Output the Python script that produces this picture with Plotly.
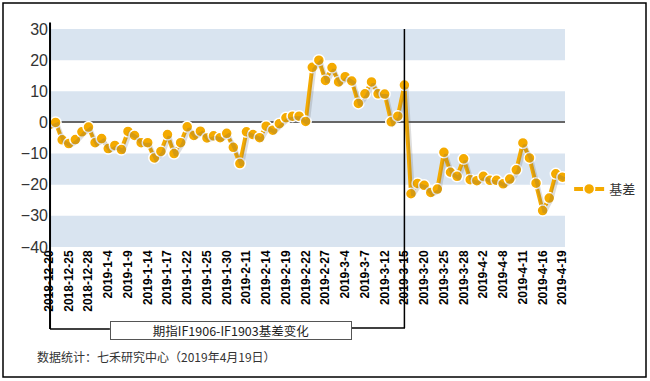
import plotly.graph_objects as go

dates = [
    "2018-12-20", "2018-12-21", "2018-12-24", "2018-12-25", "2018-12-26", "2018-12-27", "2018-12-28",
    "2019-1-2", "2019-1-3", "2019-1-4", "2019-1-7", "2019-1-8", "2019-1-9", "2019-1-10", "2019-1-11",
    "2019-1-14", "2019-1-15", "2019-1-16", "2019-1-17", "2019-1-18", "2019-1-21", "2019-1-22",
    "2019-1-23", "2019-1-24", "2019-1-25", "2019-1-28", "2019-1-29", "2019-1-30", "2019-1-31",
    "2019-2-1", "2019-2-11", "2019-2-12", "2019-2-13", "2019-2-14", "2019-2-15", "2019-2-18",
    "2019-2-19", "2019-2-20", "2019-2-21", "2019-2-22", "2019-2-25", "2019-2-26", "2019-2-27",
    "2019-2-28", "2019-3-1", "2019-3-4", "2019-3-5", "2019-3-6", "2019-3-7", "2019-3-8",
    "2019-3-11", "2019-3-12", "2019-3-13", "2019-3-14", "2019-3-15", "2019-3-18", "2019-3-19",
    "2019-3-20", "2019-3-21", "2019-3-22", "2019-3-25", "2019-3-26", "2019-3-27", "2019-3-28",
    "2019-3-29", "2019-4-1", "2019-4-2", "2019-4-3", "2019-4-4", "2019-4-8", "2019-4-9",
    "2019-4-10", "2019-4-11", "2019-4-12", "2019-4-15", "2019-4-16", "2019-4-17", "2019-4-18",
    "2019-4-19",
]

basis = [
    -0.8, 0.0, -5.6, -6.8, -5.5, -3.0, -1.5,
    -6.5, -5.2, -8.4, -7.4, -8.7, -2.9, -4.2, -6.5,
    -6.5, -11.4, -9.3, -3.9, -10.0, -6.5, -1.4,
    -4.2, -2.8, -5.0, -4.3, -4.9, -3.5, -8.0,
    -13.2, -3.0, -3.9, -4.9, -1.2, -2.5, -0.4,
    1.5, 2.0, 2.0, 0.3, 17.7, 20.0, 13.5,
    17.6, 13.0, 14.7, 13.3, 6.1, 9.2, 13.0,
    9.2, 9.1, 0.2, 2.0, 12.0, -22.9, -19.6,
    -20.2, -22.5, -21.4, -9.6, -16.0, -17.3, -11.7,
    -18.4, -18.7, -17.3, -18.6, -18.6, -19.7, -18.2,
    -15.2, -6.6, -11.4, -19.5, -28.3, -24.3, -16.5,
    -17.6,
]

tick_labels = dates[::3]
y_ticks = [30, 20, 10, 0, -10, -20, -30, -40]
band_edges = [(20, 30), (0, 10), (-20, -10), (-40, -30)]

series_name = "基差"
box_title = "期指IF1906-IF1903基差变化"
footer = "数据统计：七禾研究中心（2019年4月19日）"
split_date = "2019-3-15"

ORANGE = "#F4AA00"
BAND = "#D9E4F0"

x_range = [0, 78.4]
y_range = [-40, 30]
px_x = 516 / (x_range[1] - x_range[0])
px_y = 218 / (y_range[1] - y_range[0])
shift = 2.0

fig = go.Figure()

# shadow line (offset overlay axes)
fig.add_trace(go.Scatter(
    x=dates, y=basis, mode="lines",
    line=dict(color="rgba(90,90,90,0.2)", width=4),
    hoverinfo="skip", showlegend=False,
    xaxis="x3", yaxis="y3",
))

# main series
fig.add_trace(go.Scatter(
    x=dates, y=basis, mode="lines+markers", name=series_name,
    line=dict(color=ORANGE, width=4),
    marker=dict(color=ORANGE, size=11, line=dict(color="white", width=1.5)),
    xaxis="x2", yaxis="y2",
))

shapes = []
for lo, hi in band_edges:
    shapes.append(dict(type="rect", xref="paper", yref="y", x0=0, x1=1, y0=lo, y1=hi,
                       fillcolor=BAND, line=dict(width=0), layer="below"))

split_idx = dates.index(split_date)
box_right = 0.587
line_y = -0.372
shapes.append(dict(type="line", xref="x", yref="paper", x0=split_idx, x1=split_idx,
                   y0=1, y1=line_y, line=dict(color="black", width=1.5), layer="above"))
shapes.append(dict(type="line", xref="paper", yref="paper", x0=box_right, x1=(405 - 49) / 516,
                   y0=line_y, y1=line_y, line=dict(color="black", width=1.5), layer="above"))
shapes.append(dict(type="line", xref="paper", yref="paper", x0=0.002, x1=0.002,
                   y0=1.03, y1=-0.376, line=dict(color="black", width=2), layer="above"))
shapes.append(dict(type="line", xref="paper", yref="paper", x0=0.002, x1=0.118,
                   y0=-0.376, y1=-0.376, line=dict(color="black", width=1.5), layer="above"))
shapes.append(dict(type="rect", xref="paper", yref="paper",
                   x0=(3 - 49) / 516, x1=(646 - 49) / 516,
                   y0=(247 - 377) / 218, y1=(247 - 3) / 218,
                   line=dict(color="black", width=1.5), fillcolor="rgba(0,0,0,0)", layer="above"))

annotations = [
    dict(xref="paper", yref="paper", x=(231 - 49) / 516, y=(247 - 330) / 218,
         text=box_title, showarrow=False, xanchor="center", yanchor="middle",
         width=238, height=15, bordercolor="#555", borderwidth=1, borderpad=1,
         bgcolor="white", font=dict(family="Noto Sans CJK SC, Liberation Sans", size=12.5, color="#222")),
    dict(xref="paper", yref="paper", x=(35 - 49) / 516, y=(247 - 357) / 218,
         text=footer, showarrow=False, xanchor="left", yanchor="middle",
         font=dict(family="Noto Sans CJK SC, Liberation Sans", size=12, color="#333")),
]

fig.update_layout(
    width=650, height=381,
    margin=dict(l=49, r=85, t=29, b=134, autoexpand=False),
    paper_bgcolor="white", plot_bgcolor="white",
    showlegend=True,
    legend=dict(x=1.008, y=(247 - 189) / 218, xanchor="left", yanchor="middle",
                bgcolor="rgba(0,0,0,0)", font=dict(family="Noto Sans CJK SC, Liberation Sans", size=13, color="#333")),
    xaxis=dict(type="category", categoryorder="array", categoryarray=dates,
               range=x_range, tickmode="array", tickvals=tick_labels, ticktext=tick_labels,
               tickangle=-90, tickfont=dict(family="Liberation Sans, Arial", size=12, color="black", weight="bold"),
               showgrid=False, zeroline=False, showline=False, ticks=""),
    yaxis=dict(range=y_range, tickmode="array", tickvals=y_ticks,
               tickfont=dict(family="Liberation Sans, Arial", size=16, color="#333"),
               showgrid=False, zeroline=True, zerolinecolor="#666", zerolinewidth=2,
               showline=False, ticks="", ticklen=0),
    xaxis2=dict(type="category", categoryorder="array", categoryarray=dates,
                overlaying="x", visible=False, range=x_range),
    yaxis2=dict(overlaying="y", visible=False, range=y_range),
    xaxis3=dict(type="category", categoryorder="array", categoryarray=dates,
                overlaying="x", visible=False,
                range=[x_range[0] - shift / px_x, x_range[1] - shift / px_x]),
    yaxis3=dict(overlaying="y", visible=False,
                range=[y_range[0] + shift / px_y, y_range[1] + shift / px_y]),
    shapes=shapes,
    annotations=annotations,
)

fig.write_html("out.html", config={"displayModeBar": False},
               post_script="document.body.style.margin='0';document.body.style.overflow='hidden';")
